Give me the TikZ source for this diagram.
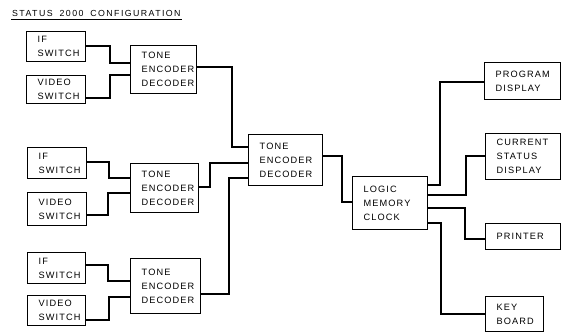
\documentclass[tikz,border=0pt]{standalone}
\usepackage{fontspec}
\newfontfamily\boxfont[LetterSpace=12]{Liberation Sans}
\newfontfamily\titlefont[LetterSpace=16]{Liberation Sans}
\begin{document}
\begin{tikzpicture}[x=1pt,y=-1pt,
  box/.style={draw, line width=1.4pt, rectangle, anchor=north west, align=left,
    inner xsep=11pt, inner ysep=0pt, font=\boxfont\fontsize{9.2}{14}\selectfont},
  wire/.style={line width=1.4pt}]
\useasboundingbox (0,0) rectangle (564,332);
\node[anchor=base west, inner sep=0pt, font=\titlefont\fontsize{8.8}{10}\selectfont] (title) at (12,16.5) {STATUS\hspace{7pt}2000\hspace{7pt}CONFIGURATION};
\draw[line width=1pt] ([yshift=-2.5pt,xshift=-1pt]title.base west) -- ([yshift=-2.5pt,xshift=1pt]title.base east);
% group 1
\node[box, minimum height=30pt, text width=37pt] (if1) at (26,31) {IF\\SWITCH};
\node[box, minimum height=28pt, text width=37pt] (vid1) at (26,75) {VIDEO\\SWITCH};
\node[box, minimum height=48pt, text width=44pt] (enc1) at (130,45) {TONE\\ENCODER\\DECODER};
% group 2
\node[box, minimum height=31pt, text width=37pt] (if2) at (27,147) {IF\\SWITCH};
\node[box, minimum height=33pt, text width=37pt] (vid2) at (27,192) {VIDEO\\SWITCH};
\node[box, minimum height=49pt, text width=46pt] (enc2) at (130,163) {TONE\\ENCODER\\DECODER};
% group 3
\node[box, minimum height=31pt, text width=36pt] (if3) at (27,252) {IF\\SWITCH};
\node[box, minimum height=30pt, text width=36pt] (vid3) at (27,295) {VIDEO\\SWITCH};
\node[box, minimum height=55pt, text width=48pt] (enc3) at (130,258) {TONE\\ENCODER\\DECODER};
% centre
\node[box, minimum height=51pt, text width=52pt] (main) at (248,134) {TONE\\ENCODER\\DECODER};
\node[box, minimum height=53pt, text width=53pt] (logic) at (352,176) {LOGIC\\MEMORY\\CLOCK};
% right
\node[box, minimum height=37pt, text width=54pt] (prog) at (484,62) {PROGRAM\\DISPLAY};
\node[box, minimum height=46pt, text width=53pt] (curr) at (485,133) {CURRENT\\STATUS\\DISPLAY};
\node[box, minimum height=26pt, text width=53pt] (prn) at (485,223) {PRINTER};
\node[box, minimum height=35pt, text width=36pt] (key) at (485,296) {KEY\\BOARD};
% connectors
\draw[wire] (if1.east |- 0,46) -| (110,63) -- (enc1.west |- 0,63);
\draw[wire] (vid1.east |- 0,98) -| (110,75) -- (enc1.west |- 0,75);
\draw[wire] (if2.east |- 0,162) -| (109,178) -- (enc2.west |- 0,178);
\draw[wire] (vid2.east |- 0,215) -| (108,193) -- (enc2.west |- 0,193);
\draw[wire] (if3.east |- 0,265) -| (108,281) -- (enc3.west |- 0,281);
\draw[wire] (vid3.east |- 0,320) -| (109,297) -- (enc3.west |- 0,297);
\draw[wire] (enc1.east |- 0,67) -| (232,147) -- (main.west |- 0,147);
\draw[wire] (enc2.east |- 0,187) -| (210,163) -- (main.west |- 0,163);
\draw[wire] (enc3.east |- 0,294) -| (229,178) -- (main.west |- 0,178);
\draw[wire] (main.east |- 0,156) -| (342,202) -- (logic.west |- 0,202);
\draw[wire] (logic.east |- 0,185) -| (440,82) -- (prog.west |- 0,82);
\draw[wire] (logic.east |- 0,195) -| (466,156) -- (curr.west |- 0,156);
\draw[wire] (logic.east |- 0,208) -| (465,239) -- (prn.west |- 0,239);
\draw[wire] (logic.east |- 0,223) -| (441,314) -- (key.west |- 0,314);
\end{tikzpicture}
\end{document}
